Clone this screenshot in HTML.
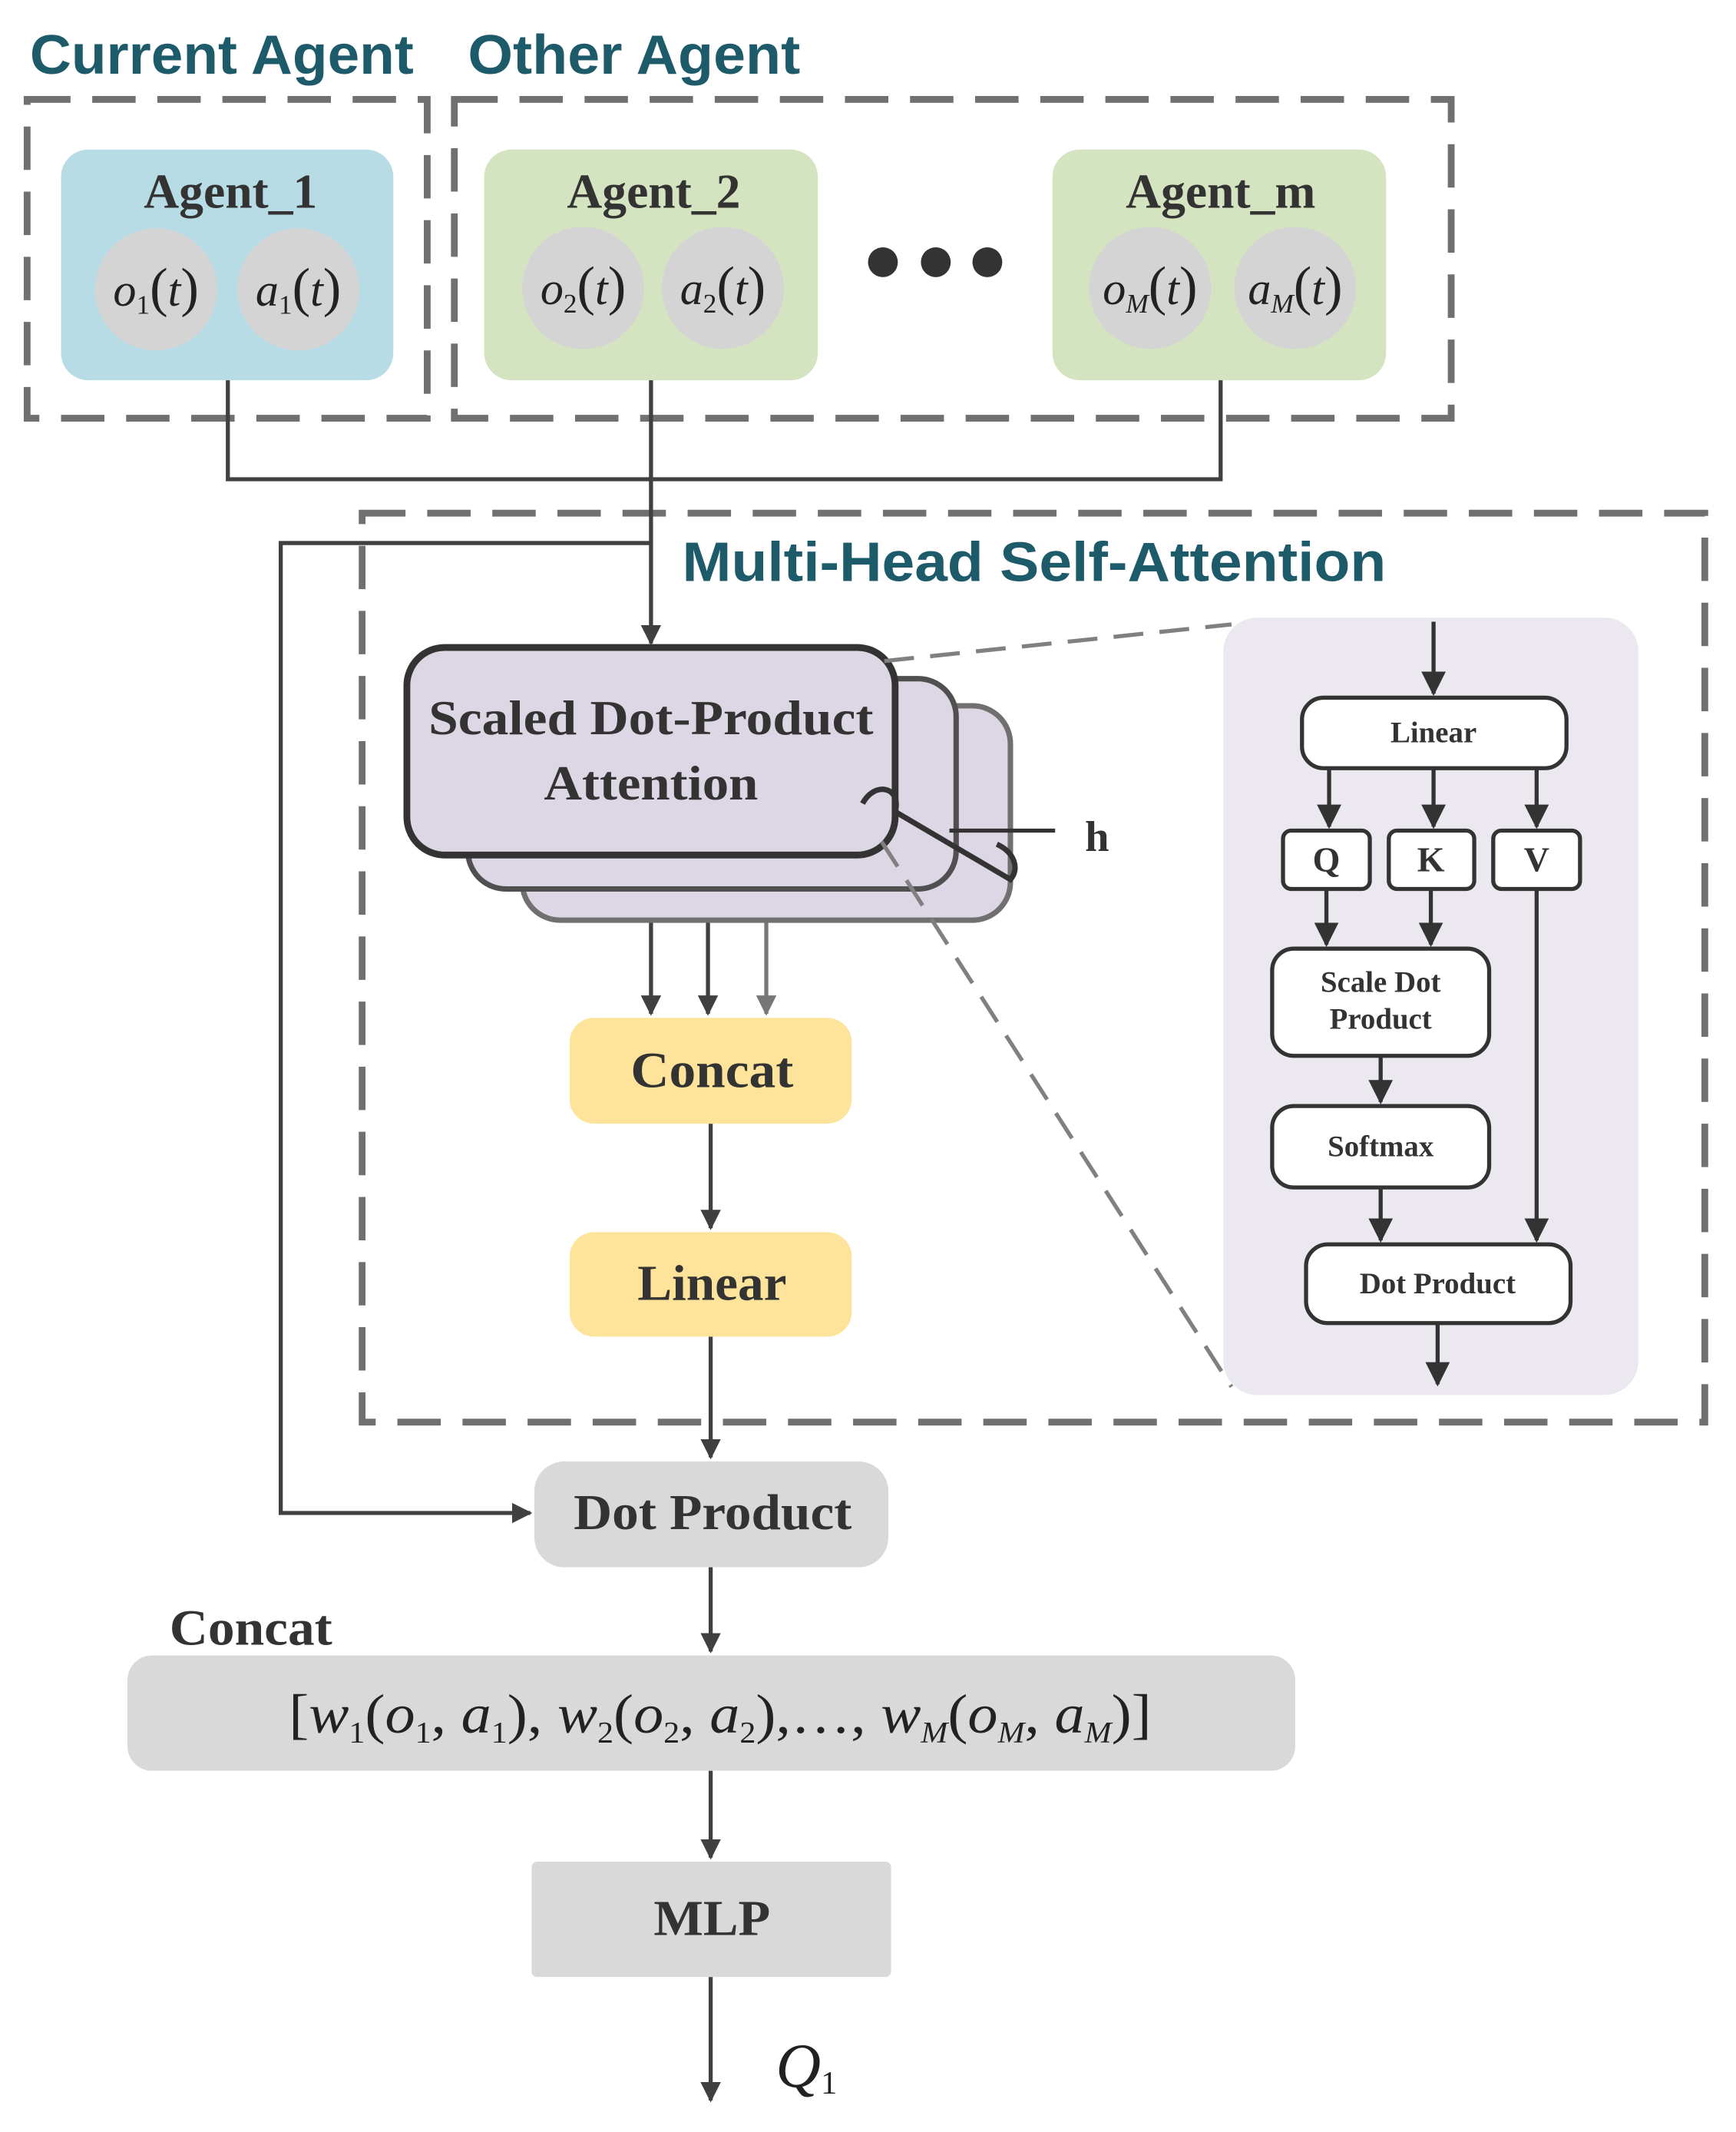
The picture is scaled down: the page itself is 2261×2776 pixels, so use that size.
<!DOCTYPE html>
<html><head><meta charset="utf-8"><style>
html,body{margin:0;padding:0;background:#fff}
svg{display:block}
.t{font-family:"Liberation Serif",serif;font-weight:bold;fill:#333}
.m{font-family:"Liberation Serif",serif;font-style:italic;fill:#222}
.h{font-family:"Liberation Sans",sans-serif;font-weight:bold;fill:#1d5a6a}
</style></head><body>
<svg width="2261" height="2776" viewBox="0 0 1280 1571" xmlns="http://www.w3.org/2000/svg">
<defs>
<marker id="a" viewBox="0 0 10 10" refX="9" refY="5" markerWidth="5" markerHeight="5" orient="auto-start-reverse" markerUnits="strokeWidth"><path d="M0,0 L10,5 L0,10 z" fill="#404040"/></marker>
<marker id="a2" viewBox="0 0 10 10" refX="9" refY="5" markerWidth="6" markerHeight="6" orient="auto" markerUnits="strokeWidth"><path d="M0,0 L10,5 L0,10 z" fill="#333"/></marker>
<marker id="a3" viewBox="0 0 10 10" refX="9" refY="5" markerWidth="5" markerHeight="5" orient="auto" markerUnits="strokeWidth"><path d="M0,0 L10,5 L0,10 z" fill="#777"/></marker>
</defs>
<text class="h" x="22" y="54" font-size="41" textLength="283" lengthAdjust="spacingAndGlyphs">Current Agent</text>
<text class="h" x="345" y="54" font-size="41" textLength="245" lengthAdjust="spacingAndGlyphs">Other Agent</text>
<g fill="none" stroke="#707070" stroke-width="5" stroke-dasharray="32 16">
<rect x="20" y="73" width="295" height="235"/>
<rect x="335" y="73" width="735" height="235"/>
<rect x="267" y="378" width="990" height="670"/>
</g>
<rect x="45" y="110" width="245" height="170" rx="20" fill="#b7dce6"/>
<rect x="357" y="110" width="246" height="170" rx="20" fill="#d5e4c0"/>
<rect x="776" y="110" width="246" height="170" rx="20" fill="#d5e4c0"/>
<text class="t" x="170" y="153" font-size="36" text-anchor="middle">Agent_1</text>
<text class="t" x="482" y="153" font-size="36" text-anchor="middle">Agent_2</text>
<text class="t" x="900" y="153" font-size="36" text-anchor="middle">Agent_m</text>
<g fill="#d4d4d4">
<circle cx="115" cy="213" r="45"/><circle cx="220" cy="213" r="45"/>
<circle cx="430" cy="212" r="45"/><circle cx="533" cy="212" r="45"/>
<circle cx="848" cy="212" r="45"/><circle cx="955" cy="212" r="45"/>
</g>
<g fill="#333"><circle cx="651" cy="193" r="11"/><circle cx="690" cy="193" r="11"/><circle cx="728" cy="193" r="11"/></g>
<g class="m" font-size="34" text-anchor="middle">
<text x="115" y="225">o<tspan font-size="20" dy="6" font-style="normal">1</tspan><tspan dy="-6" font-size="40" font-style="normal">(</tspan>t<tspan font-size="40" font-style="normal">)</tspan></text>
<text x="220" y="225">a<tspan font-size="20" dy="6" font-style="normal">1</tspan><tspan dy="-6" font-size="40" font-style="normal">(</tspan>t<tspan font-size="40" font-style="normal">)</tspan></text>
<text x="430" y="224">o<tspan font-size="20" dy="6" font-style="normal">2</tspan><tspan dy="-6" font-size="40" font-style="normal">(</tspan>t<tspan font-size="40" font-style="normal">)</tspan></text>
<text x="533" y="224">a<tspan font-size="20" dy="6" font-style="normal">2</tspan><tspan dy="-6" font-size="40" font-style="normal">(</tspan>t<tspan font-size="40" font-style="normal">)</tspan></text>
<text x="848" y="224">o<tspan font-size="20" dy="6">M</tspan><tspan dy="-6" font-size="40" font-style="normal">(</tspan>t<tspan font-size="40" font-style="normal">)</tspan></text>
<text x="955" y="224">a<tspan font-size="20" dy="6">M</tspan><tspan dy="-6" font-size="40" font-style="normal">(</tspan>t<tspan font-size="40" font-style="normal">)</tspan></text>
</g>
<g fill="none" stroke="#404040" stroke-width="3">
<polyline points="168,280 168,353 900,353 900,280"/>
<line x1="480" y1="280" x2="480" y2="474" marker-end="url(#a)"/>
<polyline points="480,400 207,400 207,1115 391,1115" marker-end="url(#a)"/>
<line x1="480" y1="630" x2="480" y2="747" marker-end="url(#a)"/>
<line x1="522" y1="655" x2="522" y2="747" marker-end="url(#a)"/>
<line x1="524" y1="828" x2="524" y2="905" marker-end="url(#a)"/>
<line x1="524" y1="985" x2="524" y2="1074" marker-end="url(#a)"/>
<line x1="524" y1="1155" x2="524" y2="1217" marker-end="url(#a)"/>
<line x1="524" y1="1305" x2="524" y2="1369" marker-end="url(#a)"/>
<line x1="524" y1="1457" x2="524" y2="1548" marker-end="url(#a)"/>
</g>
<line x1="565" y1="678" x2="565" y2="747" stroke="#777" stroke-width="3" marker-end="url(#a3)"/>
<text class="h" x="503" y="428" font-size="41" textLength="519" lengthAdjust="spacingAndGlyphs">Multi-Head Self-Attention</text>
<rect x="385" y="520" width="360" height="158" rx="28" fill="#ddd6e4" stroke="#707070" stroke-width="4"/>
<rect x="345" y="500" width="360" height="155" rx="28" fill="#ddd6e4" stroke="#505050" stroke-width="4"/>
<rect x="300" y="477" width="360" height="153" rx="28" fill="#ddd6e4" stroke="#333" stroke-width="5"/>
<text class="t" x="316" y="541" font-size="36" textLength="328" lengthAdjust="spacingAndGlyphs">Scaled Dot-Product</text>
<text class="t" x="401" y="589" font-size="36" textLength="158" lengthAdjust="spacingAndGlyphs">Attention</text>
<path d="M636,592 C645,575 665,580 660,598 L745,648 C752,640 748,628 735,622" fill="none" stroke="#333" stroke-width="4"/>
<line x1="700" y1="612" x2="778" y2="612" stroke="#333" stroke-width="3"/>
<text class="t" x="800" y="627" font-size="32">h</text>
<rect x="420" y="750" width="208" height="78" rx="18" fill="#fde49a"/>
<text class="t" x="465" y="801" font-size="37" textLength="120" lengthAdjust="spacingAndGlyphs">Concat</text>
<rect x="420" y="908" width="208" height="77" rx="18" fill="#fde49a"/>
<text class="t" x="470" y="958" font-size="37" textLength="110" lengthAdjust="spacingAndGlyphs">Linear</text>
<rect x="394" y="1077" width="261" height="78" rx="22" fill="#d9d9d9"/>
<text class="t" x="423" y="1127" font-size="37" textLength="205" lengthAdjust="spacingAndGlyphs">Dot Product</text>
<text class="t" x="125" y="1212" font-size="37" textLength="120" lengthAdjust="spacingAndGlyphs">Concat</text>
<rect x="94" y="1220" width="861" height="85" rx="18" fill="#d9d9d9"/>
<text class="m" x="213" y="1277" font-size="41" textLength="636" lengthAdjust="spacingAndGlyphs"><tspan font-style="normal">[</tspan>w<tspan font-size="22" dy="7" font-style="normal">1</tspan><tspan dy="-7" font-style="normal">(</tspan>o<tspan font-size="22" dy="7" font-style="normal">1</tspan><tspan dy="-7" font-style="normal">, </tspan>a<tspan font-size="22" dy="7" font-style="normal">1</tspan><tspan dy="-7" font-style="normal">), </tspan>w<tspan font-size="22" dy="7" font-style="normal">2</tspan><tspan dy="-7" font-style="normal">(</tspan>o<tspan font-size="22" dy="7" font-style="normal">2</tspan><tspan dy="-7" font-style="normal">, </tspan>a<tspan font-size="22" dy="7" font-style="normal">2</tspan><tspan dy="-7" font-style="normal">),…, </tspan>w<tspan font-size="22" dy="7">M</tspan><tspan dy="-7" font-style="normal">(</tspan>o<tspan font-size="22" dy="7">M</tspan><tspan dy="-7" font-style="normal">, </tspan>a<tspan font-size="22" dy="7">M</tspan><tspan dy="-7" font-style="normal">)]</tspan></text>
<rect x="392" y="1372" width="265" height="85" rx="4" fill="#d9d9d9"/>
<text class="t" x="482" y="1426" font-size="37" textLength="86" lengthAdjust="spacingAndGlyphs">MLP</text>
<text class="m" x="572" y="1538" font-size="46">Q<tspan font-size="24" dy="5" font-style="normal">1</tspan></text>
<!-- right panel -->
<rect x="902" y="455" width="306" height="573" rx="25" fill="#ebe8f0"/>
<g stroke="#808080" stroke-width="3" stroke-dasharray="22 12" fill="none">
<line x1="652" y1="487" x2="908" y2="460"/>
<line x1="650" y1="620" x2="908" y2="1022"/>
</g>
<g fill="none" stroke="#333" stroke-width="3">
<line x1="1057" y1="458" x2="1057" y2="511" marker-end="url(#a2)"/>
<line x1="980" y1="566" x2="980" y2="609" marker-end="url(#a2)"/>
<line x1="1057" y1="566" x2="1057" y2="609" marker-end="url(#a2)"/>
<line x1="1133" y1="566" x2="1133" y2="609" marker-end="url(#a2)"/>
<line x1="978" y1="655" x2="978" y2="696" marker-end="url(#a2)"/>
<line x1="1055" y1="655" x2="1055" y2="696" marker-end="url(#a2)"/>
<line x1="1018" y1="778" x2="1018" y2="812" marker-end="url(#a2)"/>
<line x1="1018" y1="875" x2="1018" y2="914" marker-end="url(#a2)"/>
<line x1="1133" y1="655" x2="1133" y2="914" marker-end="url(#a2)"/>
<line x1="1060" y1="975" x2="1060" y2="1020" marker-end="url(#a2)"/>
</g>
<g fill="#fff" stroke="#333" stroke-width="3">
<rect x="960" y="514" width="195" height="52" rx="16"/>
<rect x="946" y="612" width="64" height="43" rx="6"/>
<rect x="1024" y="612" width="63" height="43" rx="6"/>
<rect x="1101" y="612" width="64" height="43" rx="6"/>
<rect x="938" y="699" width="160" height="79" rx="16"/>
<rect x="938" y="815" width="160" height="60" rx="16"/>
<rect x="963" y="917" width="195" height="58" rx="16"/>
</g>
<g class="t" text-anchor="middle">
<text x="1057" y="547" font-size="22">Linear</text>
<text x="978" y="642" font-size="26">Q</text>
<text x="1055" y="642" font-size="26">K</text>
<text x="1133" y="642" font-size="26">V</text>
<text x="1018" y="731" font-size="22">Scale Dot</text>
<text x="1018" y="758" font-size="22">Product</text>
<text x="1018" y="852" font-size="22">Softmax</text>
<text x="1060" y="953" font-size="22">Dot Product</text>
</g>
</svg>
</body></html>
